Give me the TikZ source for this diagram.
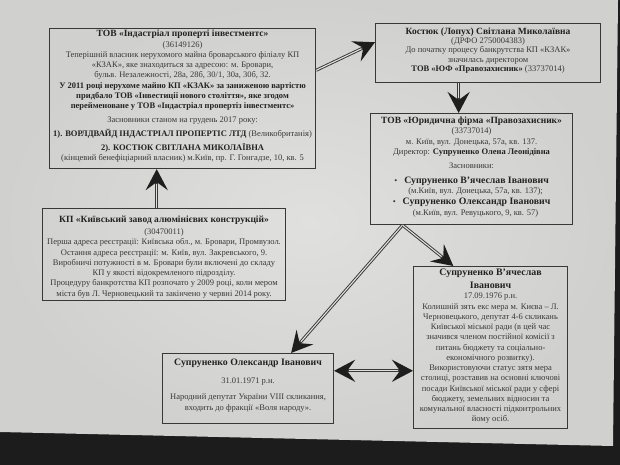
\documentclass[tikz,border=0pt]{standalone}
\usepackage{fontspec}
\setmainfont{Liberation Serif}
\usetikzlibrary{arrows.meta,calc}
\definecolor{paperc}{HTML}{D0D0CE}
\definecolor{paperl}{HTML}{E0E0DE}
\definecolor{darkc}{HTML}{1C1C1C}
\definecolor{inkc}{HTML}{383838}
\definecolor{boldc}{HTML}{222222}
\definecolor{framec}{HTML}{383838}
\definecolor{tipc}{HTML}{1E1E1E}
\newcommand{\ttl}[1]{{\fontsize{9.5}{10}\selectfont\bfseries\color{boldc}#1}}
\newcommand{\bt}[1]{{\bfseries\color{boldc}#1}}
\tikzset{
  boxframe/.style={draw=framec, line width=1.1pt, inner sep=0pt, anchor=north west},
  txt/.style={inner sep=0pt, align=center, text=inkc, anchor=north, font=\fontsize{8.5}{10.25}\selectfont},
  bigtip/.tip={Stealth[length=21pt,width=22pt,inset=8pt,color=tipc]},
  shaft/.style={draw=framec, line width=3pt, -bigtip},
  dshaft/.style={draw=framec, line width=3pt, bigtip-bigtip},
  core/.style={draw=paperl, line width=1.1pt, shorten >=15pt},
  dcore/.style={draw=paperl, line width=1.1pt, shorten >=15pt, shorten <=15pt},
}
\begin{document}
\begin{tikzpicture}[x=1pt,y=-1pt]
\useasboundingbox (0,0) rectangle (620,465);
\fill[darkc] (0,0) rectangle (620,465);
\shade[inner color=paperl, outer color=paperc] (0,0) -- (618,0) -- (613,446) -- (0,432) -- cycle;

% boxes
\node[boxframe, minimum width=266pt, minimum height=140pt] (b1) at (49,28) {};
\node[boxframe, minimum width=243pt, minimum height=92pt] (b2) at (42,208) {};
\node[boxframe, minimum width=225pt, minimum height=59pt] (b3) at (375,23) {};
\node[boxframe, minimum width=202pt, minimum height=111pt] (b4) at (370,113) {};
\node[boxframe, minimum width=154pt, minimum height=162pt] (b5) at (413,266) {};
\node[boxframe, minimum width=171pt, minimum height=70pt] (b6) at (162,353) {};

% texts
\node[txt, yshift=-2pt] (t1) at (b1.north) {%
\ttl{ТОВ «Індастріал проперті інвестментс»}\\
(36149126)\\
Теперішній власник нерухомого майна броварського філіалу КП\\
«КЗАК», яке знаходиться за адресою: м. Бровари,\\
бульв. Незалежності, 28а, 28б, 30/1, 30а, 30б, 32.\\
\bt{У 2011 році нерухоме майно КП «КЗАК» за заниженою вартістю}\\
\bt{придбало ТОВ «Інвестиції нового століття», яке згодом}\\
\bt{перейменоване у ТОВ «Індастріал пропертіз інвестментс»}\\[3.8pt]
Засновники станом на грудень 2017 року:\\[3.3pt]
\bt{1). ВОРЛДВАЙД ІНДАСТРІАЛ ПРОПЕРТІС ЛТД} (Великобританія)\\[4.3pt]
\bt{2). КОСТЮК СВІТЛАНА МИКОЛАЇВНА}\\[-0.7pt]
(кінцевий бенефіціарний власник) м.Київ, пр. Г. Гонгадзе, 10, кв. 5};

\node[txt, yshift=-8pt] (t2) at (b2.north) {%
\ttl{КП «Київський завод алюмінієвих конструкцій»}\\[1.5pt]
(30470011)\\
Перша адреса реєстрації: Київська обл., м. Бровари, Промвузол.\\
Остання адреса реєстрації: м. Київ, вул. Закревського, 9.\\
Виробничі потужності в м. Бровари були включені до складу\\
КП у якості відокремленого підрозділу.\\
Процедуру банкротства КП розпочато у 2009 році, коли мером\\
міста був Л. Черновецький та закінчено у червні 2014 року.};

\node[txt, yshift=-5pt] (t3) at (b3.north) {%
\ttl{Костюк (Лопух) Світлана Миколаївна}\\[-1.5pt]
(ДРФО 2750004383)\\[-0.8pt]
До початку процесу банкрутства КП «КЗАК»\\[-1pt]
значилась директором\\[-0.8pt]
\bt{ТОВ «ЮФ «Правозахисник»} (33737014)};

\node[txt, yshift=-3.5pt] (t4) at (b4.north) {%
\ttl{ТОВ «Юридична фірма «Правозахисник»}\\[0.3pt]
(33737014)\\
м. Київ, вул. Донецька, 57а, кв. 137.\\
Директор: \bt{Супруненко Олена Леонідівна}\\[3.5pt]
Засновники:\\[5.5pt]
\textbullet\hspace{7pt}{\fontsize{9.8}{10}\selectfont\bfseries\color{boldc}Супруненко В’ячеслав Іванович}\hspace*{12pt}\\[-0.8pt]
\hspace*{8pt}(м.Київ, вул. Донецька, 57а, кв. 137);\\[1.3pt]
\textbullet\hspace{7pt}{\fontsize{9.8}{10}\selectfont\bfseries\color{boldc}Супруненко Олександр Іванович}\hspace*{12pt}\\[0pt]
\hspace*{8pt}(м.Київ, вул. Ревуцького, 9, кв. 57)};

\node[txt, yshift=-3pt] (t5) at (b5.north) {%
{\fontsize{9.9}{10}\selectfont\bfseries\color{boldc}Супруненко В’ячеслав}\\[2pt]
{\fontsize{9.9}{10}\selectfont\bfseries\color{boldc}Іванович}\\[0.5pt]
17.09.1976 р.н.\\
Колишній зять екс мера м. Києва – Л.\\
Черновецького, депутат 4-6 скликань\\
Київської міської ради (в цей час\\
значився членом постійної комісії з\\
питань бюджету та соціально-\\
економічного розвитку).\\
Використовуючи статус зятя мера\\
столиці, розставив на основні ключові\\
посади Київської міської ради у сфері\\
бюджету, земельних відносин та\\
комунальної власності підконтрольних\\
йому осіб.};

\node[txt, yshift=-6pt] (t6) at (b6.north) {%
{\fontsize{9.8}{10}\selectfont\bfseries\color{boldc}Супруненко Олександр Іванович}\\[8pt]
31.01.1971 р.н.\\[5.5pt]
Народний депутат України VIII скликання,\\[1pt]
входить до фракції «Воля народу».};

% connectors
\coordinate (c2top) at ($(b2.north west)!0.47!(b2.north east)$);
\draw[shaft] (c2top) -- (c2top |- b1.south);
\draw[core] (c2top) -- (c2top |- b1.south);
\coordinate (c1r) at ($(b1.north east)!0.3!(b1.south east)$);
\coordinate (c3l) at ($(b3.north west)!0.32!(b3.south west)$);
\draw[shaft] (c1r) -- (c3l);
\draw[core] (c1r) -- (c3l);
\coordinate (c3bot) at ($(b3.south west)!0.37!(b3.south east)$);
\draw[shaft] (c3bot) -- (c3bot |- b4.north);
\draw[core] (c3bot) -- (c3bot |- b4.north);
\coordinate (c4bot) at ($(b4.south west)!0.16!(b4.south east)$);
\coordinate (c6top) at ($(b6.north west)!0.75!(b6.north east)$);
\coordinate (c5top) at ($(b5.north west)!0.26!(b5.north east)$);
\draw[shaft] (c4bot) -- (c6top);
\draw[core] (c4bot) -- (c6top);
\draw[shaft] (c4bot) -- (c5top);
\draw[core] (c4bot) -- (c5top);
\coordinate (c6r) at ($(b6.north east)!0.25!(b6.south east)$);
\draw[dshaft] (c6r) -- (c6r -| b5.west);
\draw[dcore] (c6r) -- (c6r -| b5.west);
\end{tikzpicture}
\end{document}
